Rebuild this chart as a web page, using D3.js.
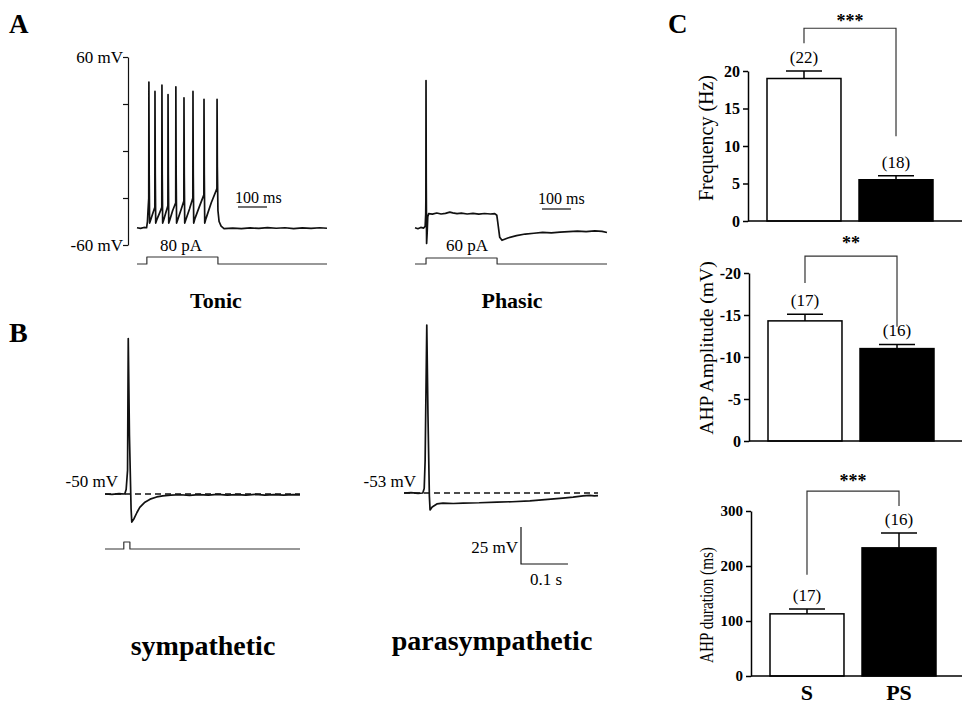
<!DOCTYPE html>
<html>
<head>
<meta charset="utf-8">
<script src="https://cdn.jsdelivr.net/npm/d3@7"></script>
<style>
  html, body { margin: 0; padding: 0; background: #fff; }
  svg text { font-family: 'Liberation Serif', 'Times New Roman', serif; fill: #000; }
</style>
</head>
<body>
<div id="chart"></div>
<script>
// ---- traces: [time (ms), membrane potential (mV)] ----
const tonicTrace = [
  [0, -49], [12, -49.4], [24, -48.8], [33, -49], [36, -45], [38, -38], [40.5, -30], [41, 44], [42, -15], [43.5, -46],
  [47, -44], [54, -40], [61.5, -36], [62, 38], [63, -15], [64.5, -46],
  [68, -44], [77, -40], [85.5, -36], [86, 42], [87, -15], [88.5, -46],
  [92, -44], [100, -39], [106.5, -35], [107, 36], [108, -15], [109.5, -46],
  [113, -44], [123, -38], [133.5, -33], [134, 41], [135, -15], [136.5, -46],
  [140, -44], [151, -38], [161.5, -32], [162, 34], [163, -15], [164.5, -46],
  [168, -44], [181, -37], [192.5, -30], [193, 38], [194, -15], [195.5, -46],
  [200, -43], [216, -35], [230.5, -28], [231, 33], [232, -15], [233.5, -46],
  [238, -43], [256, -33], [275.5, -24], [276, 33], [277, -10], [279, -38], [283, -45], [290, -48], [300, -49.5],
  [330, -49.2], [360, -49.6], [390, -49.1], [420, -49.4], [450, -48.9], [480, -49.3], [510, -49],
  [540, -49.5], [570, -49.1], [600, -49.4], [630, -49], [655, -49.3]
];
const tonicStim = [[0, 0], [34, 0], [34, 80], [279, 80], [279, 0], [655, 0]]; // pA

const phasicTrace = [
  [0, -49], [10, -49.6], [20, -48.8], [30, -49.2], [35, -48], [37, -40], [37.5, -31], [38, 45], [38.8, -20], [40, -59],
  [42, -52], [44, -42], [47, -40], [60, -40.3], [75, -39.6], [90, -40.2], [105, -39.8], [120, -39], [130, -39.5],
  [145, -40], [160, -39.7], [180, -40.2], [200, -39.8], [220, -40.3], [240, -39.9], [260, -40.2], [275, -40],
  [282, -41], [285, -45], [292, -55], [300, -57], [320, -55.5], [350, -54], [380, -53], [410, -52.5], [440, -52],
  [470, -52.2], [500, -51.8], [530, -51.5], [560, -51.2], [590, -51.5], [620, -51], [645, -51.3], [662, -52]
];
const phasicStim = [[0, 0], [38, 0], [38, 60], [283, 60], [283, 0], [662, 0]]; // pA

const symTrace = [
  [0, -50], [15, -50.3], [30, -49.8], [42, -50], [45, -47], [48, -34], [49.5, 55], [52, -10], [55.5, -60], [57, -69],
  [62, -66.5], [68, -62.5], [74, -59], [85, -55.5], [96, -53.5], [110, -52], [123, -51.3], [140, -50.8],
  [160, -50.5], [180, -50.9], [200, -50.4], [220, -50.8], [240, -50.3], [260, -50.7], [280, -50.4], [300, -50.8],
  [320, -50.3], [340, -50.7], [360, -50.4], [380, -50.8], [400, -50.4], [415, -50.6]
];
const symStim = [[0, 0], [40, 0], [40, 1], [53, 1], [53, 0], [415, 0]];
const symRest = -50;

const paraTrace = [
  [0, -53], [15, -52.7], [30, -53.2], [40, -53], [43, -50], [45, -31], [48.5, 60.5], [51, 0], [54, -55], [55.5, -64.5],
  [60, -62.5], [70, -60.4], [83, -59.8], [105, -60.1], [126, -59.8], [160, -59.6], [198, -59.1], [230, -58.9],
  [268, -58.3], [300, -57.5], [338, -56.4], [360, -55.8], [381, -55], [395, -54.6], [405, -55], [413, -54.8]
];
const paraRest = -53;

const tonicTicks = [60, 30, 0, -30, -60];

// ---- bar data ----
const groups = ['S', 'PS'];
const freqMean = [19, 5.5];
const freqSem = [1.0, 0.55];
const freqN = [22, 18];
const freqTicks = [0, 5, 10, 15, 20];

const ampMean = [-14.3, -11.0];
const ampSem = [0.8, 0.5];
const ampN = [17, 16];
const ampTicks = [0, -5, -10, -15, -20];

const durMean = [113, 233];
const durSem = [9, 27];
const durN = [17, 16];
const durTicks = [0, 100, 200, 300];

const serif = "'Liberation Serif', 'Times New Roman', serif";

const svg = d3
  .select('#chart')
  .append('svg')
  .attr('width', 962)
  .attr('height', 713)
  .style('background', '#fff');

const addText = (txt, x, y, size, opts = {}) =>
  svg
    .append('text')
    .attr('x', x)
    .attr('y', y)
    .attr('font-size', size)
    .attr('font-weight', opts.bold ? 'bold' : 'normal')
    .attr('text-anchor', opts.anchor || 'start')
    .text(txt);

const drawTrace = (data, xs, ys, width = 1.6, color = '#111') =>
  svg
    .append('path')
    .datum(data)
    .attr('fill', 'none')
    .attr('stroke', color)
    .attr('stroke-width', width)
    .attr('stroke-linejoin', 'round')
    .attr('d', d3.line().x(d => xs(d[0])).y(d => ys(d[1])));

// panel letters
addText('A', 9, 33, 27, { bold: true });
addText('B', 9, 342, 28, { bold: true });
addText('C', 668, 33, 27, { bold: true });

/* ---------- A: tonic ---------- */
const tTonic = d3.scaleLinear().domain([0, 655]).range([137, 327]);
const vA = d3.scaleLinear().domain([-60, 60]).range([245, 57]);
const iTonic = d3.scaleLinear().domain([0, 80]).range([264, 257]);

const vAxis = svg
  .append('g')
  .attr('transform', 'translate(128,0)')
  .call(
    d3
      .axisLeft(vA)
      .tickValues(tonicTicks)
      .tickSize(5)
      .tickSizeOuter(0)
      .tickPadding(0)
      .tickFormat(d => (d === 60 ? '60 mV' : d === -60 ? '-60 mV' : ''))
  );
vAxis.attr('font-family', serif).attr('font-size', 17);
vAxis.selectAll('path, line').attr('stroke', '#111').attr('stroke-width', 1.2);

drawTrace(tonicTrace, tTonic, vA, 1.7);
drawTrace(tonicStim, tTonic, iTonic, 1.2, '#333');
addText('80 pA', 181, 251, 17, { anchor: 'middle' });

// 100 ms scale bar
svg
  .append('line')
  .attr('x1', 238)
  .attr('x2', 238 + tTonic(100) - tTonic(0))
  .attr('y1', 207)
  .attr('y2', 207)
  .attr('stroke', '#111')
  .attr('stroke-width', 1.2);
addText('100 ms', 235, 203, 16);
addText('Tonic', 216, 308, 22, { bold: true, anchor: 'middle' });

/* ---------- A: phasic ---------- */
const tPhasic = d3.scaleLinear().domain([0, 662]).range([415, 607]);
const iPhasic = d3.scaleLinear().domain([0, 60]).range([264, 258]);

drawTrace(phasicTrace, tPhasic, vA, 1.7);
drawTrace(phasicStim, tPhasic, iPhasic, 1.2, '#333');
addText('60 pA', 467, 251, 17, { anchor: 'middle' });
svg
  .append('line')
  .attr('x1', 542)
  .attr('x2', 542 + tPhasic(100) - tPhasic(0))
  .attr('y1', 209)
  .attr('y2', 209)
  .attr('stroke', '#111')
  .attr('stroke-width', 1.2);
addText('100 ms', 538, 204, 16);
addText('Phasic', 512, 308, 22, { bold: true, anchor: 'middle' });

/* ---------- B: sympathetic ---------- */
const tSym = d3.scaleLinear().domain([0, 415]).range([105, 300]);
const vSym = d3.scaleLinear().domain([-50, -25]).range([494, 457]);
const iSym = d3.scaleLinear().domain([0, 1]).range([549, 542]);

drawTrace([[0, symRest], [415, symRest]], tSym, vSym, 1.5).attr('stroke-dasharray', '6,4');
drawTrace(symTrace, tSym, vSym, 1.7);
drawTrace(symStim, tSym, iSym, 1.2, '#333');
addText('-50 mV', 118, 487, 17, { anchor: 'end' });
addText('sympathetic', 203, 655, 28, { bold: true, anchor: 'middle' });

/* ---------- B: parasympathetic ---------- */
const tPara = d3.scaleLinear().domain([0, 413]).range([404, 598]);
const vPara = d3.scaleLinear().domain([-53, -28]).range([493, 456]);

drawTrace([[0, paraRest], [413, paraRest]], tPara, vPara, 1.5).attr('stroke-dasharray', '6,4');
drawTrace(paraTrace, tPara, vPara, 1.7);
addText('-53 mV', 416, 487, 17, { anchor: 'end' });

// 25 mV / 0.1 s scale bar
const sbX = 521;
const sbY = 564;
svg
  .append('path')
  .attr('fill', 'none')
  .attr('stroke', '#111')
  .attr('stroke-width', 1.2)
  .attr(
    'd',
    `M${sbX},${sbY - (vPara(-53) - vPara(-28))}V${sbY}H${sbX + tPara(100) - tPara(0)}`
  );
addText('25 mV', 518, 553, 17, { anchor: 'end' });
addText('0.1 s', 546, 585, 17, { anchor: 'middle' });
addText('parasympathetic', 492, 650, 28, { bold: true, anchor: 'middle' });

/* ---------- C: bar charts ---------- */
const drawBars = cfg => {
  const x = d3
    .scaleBand()
    .domain(groups)
    .range(cfg.xRange)
    .paddingInner(0.196)
    .paddingOuter(0);
  const y = d3.scaleLinear().domain(cfg.domain).range(cfg.yRange);
  const cx = d => x(d) + x.bandwidth() / 2;
  const tip = i => cfg.means[i] + Math.sign(cfg.means[i]) * cfg.sems[i];

  const ax = svg
    .append('g')
    .attr('transform', `translate(${cfg.axisX},0)`)
    .call(
      d3
        .axisLeft(y)
        .tickValues(cfg.ticks)
        .tickSize(5)
        .tickSizeOuter(0)
        .tickPadding(3)
        .tickFormat(d => String(d))
    );
  ax.attr('font-family', serif).attr('font-size', cfg.tickFont).attr('font-weight', 'bold');
  ax.selectAll('path, line').attr('stroke', '#000').attr('stroke-width', 1.5);

  // bars
  svg
    .selectAll(null)
    .data(groups)
    .enter()
    .append('rect')
    .attr('x', d => x(d))
    .attr('width', x.bandwidth())
    .attr('y', (d, i) => Math.min(y(0), y(cfg.means[i])))
    .attr('height', (d, i) => Math.abs(y(cfg.means[i]) - y(0)))
    .attr('fill', (d, i) => (i === 0 ? '#fff' : '#000'))
    .attr('stroke', '#000')
    .attr('stroke-width', 1.5);

  // baseline
  svg
    .append('line')
    .attr('x1', cfg.axisX)
    .attr('x2', 962)
    .attr('y1', y(0))
    .attr('y2', y(0))
    .attr('stroke', '#000')
    .attr('stroke-width', 1.5);

  // error bars
  groups.forEach((d, i) => {
    svg
      .append('path')
      .attr('fill', 'none')
      .attr('stroke', '#000')
      .attr('stroke-width', 1.5)
      .attr(
        'd',
        `M${cx(d)},${y(cfg.means[i])}V${y(tip(i))}M${cx(d) - 18},${y(tip(i))}H${cx(d) + 18}`
      );
    addText(`(${cfg.ns[i]})`, cx(d), y(tip(i)) - 8, 17, { anchor: 'middle' });
  });

  // significance bracket
  const b = cfg.bracket;
  svg
    .append('path')
    .attr('fill', 'none')
    .attr('stroke', '#333')
    .attr('stroke-width', 1.2)
    .attr('d', `M${cx('S')},${y(b.left)}V${y(b.top)}H${cx('PS')}V${y(b.right)}`);
  addText(cfg.stars, (cx('S') + cx('PS')) / 2, y(b.top) - cfg.starGap, 18, {
    bold: true,
    anchor: 'middle'
  });

  // y label (squeezed along its length like the source panel)
  svg
    .append('text')
    .attr('transform', `translate(713,${cfg.labelY}) rotate(-90) scale(${cfg.labelSqueeze},1)`)
    .attr('text-anchor', 'middle')
    .attr('font-size', cfg.labelFont)
    .text(cfg.label);

  return { x, y, cx };
};

drawBars({
  means: freqMean,
  sems: freqSem,
  ns: freqN,
  ticks: freqTicks,
  domain: [0, 20],
  yRange: [221, 71],
  xRange: [767, 933],
  axisX: 748,
  tickFont: 16,
  label: 'Frequency (Hz)',
  labelY: 138,
  labelFont: 20,
  labelSqueeze: 1,
  bracket: { top: 25.7, left: 23.7, right: 11.3 },
  stars: '***',
  starGap: 1.5
});

drawBars({
  means: ampMean,
  sems: ampSem,
  ns: ampN,
  ticks: ampTicks,
  domain: [0, -20],
  yRange: [441, 273],
  xRange: [768, 934],
  axisX: 749,
  tickFont: 16,
  label: 'AHP Amplitude (mV)',
  labelY: 348,
  labelFont: 19.6,
  labelSqueeze: 1,
  bracket: { top: -22, left: -18.8, right: -13.6 },
  stars: '**',
  starGap: 7
});

const dur = drawBars({
  means: durMean,
  sems: durSem,
  ns: durN,
  ticks: durTicks,
  domain: [0, 300],
  yRange: [676, 511],
  xRange: [770, 936],
  axisX: 751,
  tickFont: 15,
  label: 'AHP duration (ms)',
  labelY: 605,
  labelFont: 19,
  labelSqueeze: 0.8,
  bracket: { top: 336, left: 184, right: 309 },
  stars: '***',
  starGap: 4.5
});

// group labels
groups.forEach(g => addText(g, dur.cx(g), 700, 22, { bold: true, anchor: 'middle' }));
</script>
</body>
</html>
